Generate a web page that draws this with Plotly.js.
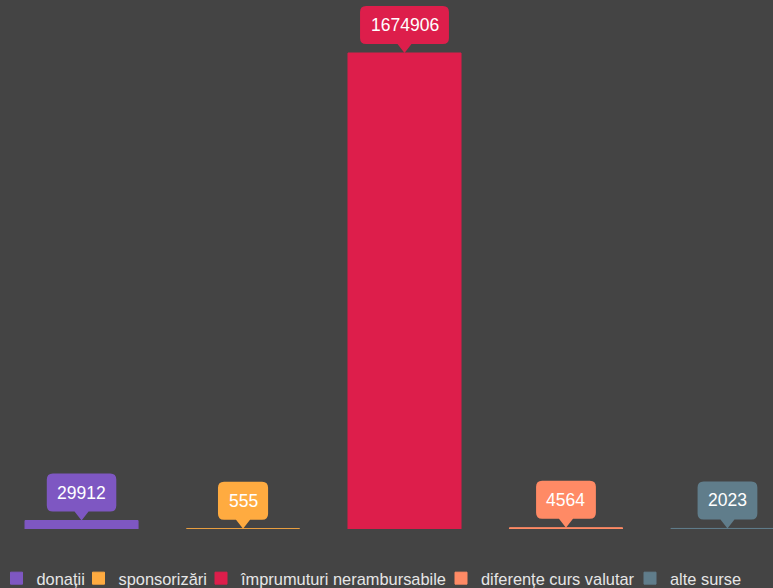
<!DOCTYPE html>
<html>
<head>
<meta charset="utf-8">
<script src="https://cdn.plot.ly/plotly-3.0.1.min.js"></script>
<style>
  html, body { margin: 0; padding: 0; background: #444444; }
  #chart { width: 773px; height: 588px; }
</style>
</head>
<body>
<div id="chart"></div>
<script>
// ---- data ----
var categories = ["donații", "sponsorizări", "împrumuturi nerambursabile", "diferențe curs valutar", "alte surse"];
var values = [29912, 555, 1674906, 4564, 2023];
var labels = ["29912", "555", "1674906", "4564", "2023"];
var colors = ["#7E57C2", "#FFAB40", "#DD1E4B", "#FF8A65", "#607D8B"];
// legend square centres (px) – layout only
var legendPos = [19.5, 101.5, 224, 464, 653];

var W = 773, H = 588;
var traces = [];
var shapes = [];
var annotations = [];
var FONT = "Arial, 'Liberation Sans', sans-serif";
var layout = {
  width: W, height: H,
  paper_bgcolor: "#444444",
  plot_bgcolor: "#444444",
  margin: {l: 0, r: 0, t: 0, b: 59, pad: 0, autoexpand: false},
  barmode: "overlay",
  bargap: 0.3,
  showlegend: true,
  hovermode: false,
  font: {family: FONT, color: "#e6e6e6", size: 16},
  xaxis: {type: "category", range: [-0.505, 4.282], showgrid: false, zeroline: false,
          showticklabels: false, showline: false, ticks: "", fixedrange: true},
  yaxis: {range: [0, 1861400], showgrid: false, zeroline: false,
          showticklabels: false, showline: false, ticks: "", fixedrange: true}
};

var boxH = 38, ptrH = 9, ptrW = 7, rad = 6;
categories.forEach(function (cat, i) {
  var legName = i === 0 ? "legend" : "legend" + (i + 1);
  traces.push({
    type: "bar",
    x: [cat],
    y: [values[i]],
    name: cat,
    legend: legName,
    marker: {color: colors[i], line: {color: colors[i], width: 1}},
    hoverinfo: "skip"
  });
  layout[legName] = {
    orientation: "h",
    x: (legendPos[i] - 23) / W,
    xanchor: "left",
    y: -0.0605,
    yanchor: "top",
    bgcolor: "rgba(0,0,0,0)",
    borderwidth: 0,
    font: {family: FONT, size: 16.4, color: "#e6e6e6"},
    itemclick: false, itemdoubleclick: false
  };
  // callout box (rounded rectangle + pointer), pixel-sized, anchored on the bar top
  var w = 9.7 * labels[i].length + 21, hw = w / 2;
  var p = ptrH, t = ptrH + boxH;
  var path = "M0,0 L" + ptrW + "," + p +
    " L" + (hw - rad) + "," + p + " Q" + hw + "," + p + " " + hw + "," + (p + rad) +
    " L" + hw + "," + (t - rad) + " Q" + hw + "," + t + " " + (hw - rad) + "," + t +
    " L" + (-hw + rad) + "," + t + " Q" + (-hw) + "," + t + " " + (-hw) + "," + (t - rad) +
    " L" + (-hw) + "," + (p + rad) + " Q" + (-hw) + "," + p + " " + (-hw + rad) + "," + p +
    " L" + (-ptrW) + "," + p + " Z";
  shapes.push({
    type: "path", xref: "x", yref: "y",
    xsizemode: "pixel", ysizemode: "pixel",
    xanchor: cat, yanchor: values[i],
    path: path,
    fillcolor: colors[i], line: {width: 0}, layer: "above"
  });
  annotations.push({
    x: cat, y: values[i], xref: "x", yref: "y",
    text: labels[i], showarrow: false,
    yshift: ptrH + boxH / 2,
    font: {family: FONT, size: 17.5, color: "#ffffff"}
  });
});
layout.shapes = shapes;
layout.annotations = annotations;

Plotly.newPlot("chart", traces, layout, {displayModeBar: false, responsive: false});
</script>
</body>
</html>
